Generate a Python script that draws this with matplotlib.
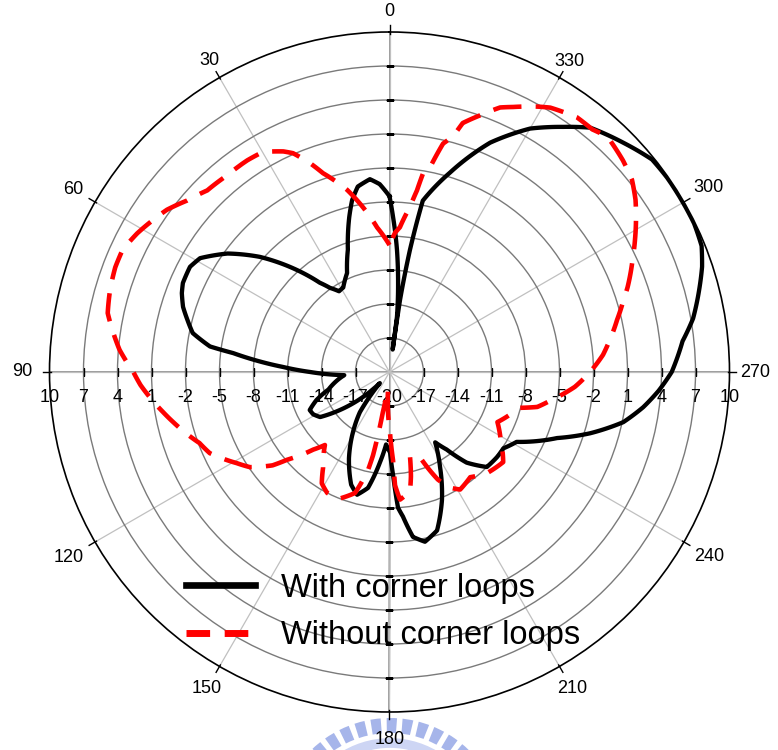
import numpy as np
import matplotlib
matplotlib.use("Agg")
import matplotlib.pyplot as plt
from matplotlib.lines import Line2D
from matplotlib.patches import Arc

plt.rcParams["font.family"] = ["Liberation Sans", "DejaVu Sans"]

# radial scale (dB) and angular ticks (deg)
R_MIN, R_MAX = -20, 10
RINGS = [-17, -14, -11, -8, -5, -2, 1, 4, 7]
RING_LABELS = [-20, -17, -14, -11, -8, -5, -2, 1, 4, 7, 10]
ANGLES = [0, 30, 60, 90, 120, 150, 180, 210, 240, 270, 300, 330]
# distance of each angle label centre outside the rim, in pixels
LABEL_OFFSET_PX = [21, 19.5, 25.5, 27.5, 30.5, 26, 27, 26, 29.5, 25.5, 28.5, 19]

# radiation pattern, with corner loops
theta_with = [0, 0.8, 3, 5.8, 9.7, 12.3, 14.6, 18.8, 23.2, 28.7, 32, 35.3, 38,
              43.5, 48.4, 53.8, 59, 62.2, 66.7, 69.2, 72.5, 75.6, 78.8, 81.9,
              83.1, 87.3, 90, 94,
              100, 106, 111, 115.5, 119, 123, 127.5, 133.3, 136.5, 139, 143.6,
              148.7, 154.8, 161.2, 165.2, 169.5, 174, 177.3, 180.4, 182, 183.6,
              185.3, 188.1, 191.8, 196.7, 202.3, 208, 213, 216.4, 220.4, 225.7,
              231.7, 236.2, 241.2, 248.5, 253, 257.9, 262.1, 266, 270, 276, 280,
              285, 288.6, 292, 296, 300, 305, 309, 314.4, 320.6, 324.7, 330,
              336.3, 343.1, 349, 350.5, 351.7, 352.0, 352.3, 354.5, 356.5,
              358.7, 360]
gain_with = [-4.5, -4.2, -3.4, -2.9, -3.4, -4.5, -5.9, -8.6, -10.5, -11.5,
             -11.6, -10.9, -10.0, -7.2, -4.7, -2.3, -0.5, -0.1, -0.15, -0.4,
             -0.9, -1.6, -2.3, -4.0, -6.1, -10.6, -13.0, -16.0, -15.2, -14.4,
             -13.1, -12.2, -12.3,
             -12.7, -14.5, -16.8, -18.0, -18.7, -15.6, -13.8, -11.6, -9.5, -8.8,
             -9.6, -12.0, -13.6, -12.9, -10.9, -8.0, -7.2, -5.3, -4.7, -5.4,
             -7.8, -10.5, -12.6, -11.5, -9.5, -8.0, -7.9, -7.9, -7.2, -4.1,
             -1.5, 1.1, 2.6, 3.8, 4.9, 6.0, 7.2, 8.3, 9.1, 9.7, 9.9, 9.9, 9.9,
             9.8, 8.9, 7.9, 6.5, 4.8, 2.1, -1.6, -4.6, -9.1, -13.6, -18.0,
             -15.1, -12.1, -9.2, -6.3, -4.5]

# radiation pattern, without corner loops
theta_without = [0, 4.9, 9.1, 13.1, 18.5, 20.8, 23.8, 25.7, 29.9, 33.9, 39.5,
                 45.1, 49.7, 53.9, 57.9, 61.2, 65.4, 69.1, 73.6, 78.2, 82, 85.3,
                 90, 93, 100, 103, 110.5, 114.3, 120.8, 124.3, 128.6, 130.6,
                 135.5, 138.5, 145.3, 148.7, 152.7, 157.9, 164.1, 167.6, 168.8,
                 169.7, 170.6, 172.5, 175, 177.7, 180.5, 182.3, 182.8, 184.7,
                 189.7, 191.6, 193.6, 196.5, 199.7, 204.2, 207.5, 211, 217.5,
                 224, 231.6, 239.2, 245.1, 252.1, 254.6, 256.7, 260.2, 265.4,
                 270, 274.6, 276.6, 282.9, 287.1, 289.6, 294.7, 298.3, 305,
                 308.4, 312.2, 317.2, 320.1, 323.7, 328.7, 330.9, 335, 337.3,
                 340.6, 343.6, 344.9, 346.8, 348.8, 350.4, 351.4, 352.9, 355.9,
                 357.7, 360]
gain_without = [-8.8, -7.2, -5.3, -3.5, -1.5, -0.3, 1.1, 1.6, 2.4, 2.5, 2.5,
                2.7, 3.4, 4.3, 4.9, 5.4, 5.9, 5.9, 5.7, 5.4, 4.6, 3.9, 2.6, 2.0,
                0.3, -0.4, -2.1, -2.6, -4.3, -5.1, -6.8, -8.1, -10.4, -11.4,
                -9.7, -8.5, -8.0, -7.9, -8.9, -11.1, -12.5, -14.4, -16.4, -18.0,
                -18.5, -16.6, -14.6, -12.2, -10.0, -8.7, -9.3, -10.6, -12.3,
                -12.3, -12.0, -9.6, -8.5, -7.9, -8.3, -7.6, -7.2, -8.6, -9.5,
                -8.5, -8.1, -6.6, -5.5, -3.6, -2.3, -1.1, -0.7, 0.6, 1.6, 2.3,
                3.6, 4.6, 6.5, 7.3, 7.8, 8.3, 7.9, 7.9, 7.3, 6.8, 5.8, 5.3, 4.0,
                2.9, 1.5, 0.7, -1.6, -2.2, -3.8, -5.3, -7.2, -7.7, -8.8]

W, H = 778, 750
RIM_PX = 340  # radius of the outer circle in pixels
fig = plt.figure(figsize=(W / 100, H / 100), dpi=100)

# faint logo stamp at the bottom edge
wm = fig.add_axes([0, 0, 1, 1], zorder=0)
wm.set_xlim(0, W)
wm.set_ylim(0, H)
wm.axis("off")
wm.add_patch(Arc((390, -81), 211, 211, theta1=20, theta2=160,
                 color="#a6b5ea", lw=10.8, ls=(0, (0.65, 0.37))))
wm.add_patch(Arc((390, -81), 176, 176, theta1=20, theta2=160,
                 color="#cdd5f4", lw=7))

ax = fig.add_axes([49.5 / W, 38 / H, 2 * RIM_PX / W, 2 * RIM_PX / H],
                  projection="polar", zorder=1)
ax.set_theta_zero_location("N")
ax.set_theta_direction(1)
ax.set_ylim(R_MIN, R_MAX)

ax.set_yticks(RINGS)
ax.set_yticklabels([])
ax.set_xticks(np.deg2rad(ANGLES))
ax.set_xticklabels([])
ax.tick_params(axis="both", length=0)
ax.yaxis.grid(True, color="#7a7a7a", lw=1.0)
ax.xaxis.grid(True, color="#c0c0c0", lw=0.9)
ax.spines["polar"].set_color("black")
ax.spines["polar"].set_linewidth(1.2)

# main axes through the centre
for a in (0, 90, 180, 270):
    ax.plot(np.deg2rad([a, a]), [R_MIN, R_MAX], color="#9a9a9a", lw=1.4, zorder=1.5)

# small ticks where rings cross the main axes
for a, m in ((90, "|"), (270, "|"), (0, "_"), (180, "_")):
    ax.plot(np.full(len(RINGS), np.deg2rad(a)), RINGS, ls="none", marker=m,
            ms=6, mew=1.0, color="black", zorder=2)

# outer ticks and angle labels
span = R_MAX - R_MIN
for a, off in zip(ANGLES, LABEL_OFFSET_PX):
    t = np.deg2rad(a)
    ax.plot([t, t], [R_MAX - 0.15, R_MAX + 0.6], color="black", lw=1.0, clip_on=False)
    ax.text(t, R_MAX + off * span / RIM_PX, str(a), ha="center", va="center",
            fontsize=13, clip_on=False)

# radial labels under the horizontal axis, both sides
for v in RING_LABELS:
    frac = 0.5 * (v - R_MIN) / span
    ax.text(0.5 + frac, 0.5 - 26 / (2 * RIM_PX), str(v), transform=ax.transAxes,
            ha="center", va="center", fontsize=13)
    if v != R_MIN:
        ax.text(0.5 - frac, 0.5 - 26 / (2 * RIM_PX), str(v), transform=ax.transAxes,
                ha="center", va="center", fontsize=13)

line_with, = ax.plot(np.deg2rad(theta_with), gain_with, color="black", lw=3.1,
                     solid_joinstyle="round", zorder=3)
line_without, = ax.plot(np.deg2rad(theta_without), gain_without, color="#ff0000",
                        lw=3.3, ls=(0, (6.2, 3.1)), dash_capstyle="butt", zorder=4)
# draw each segment along the polar grid (linear in angle and radius)
for ln in (line_with, line_without):
    ln.get_path()._interpolation_steps = 12

handles = [Line2D([], [], color="black", lw=4.8),
           Line2D([], [], color="#ff0000", lw=5.0, ls=(0, (3.4, 2.1)))]
fig.legend(handles, ["With corner loops", "Without corner loops"],
           loc="center left", bbox_to_anchor=(186 / W, 1 - 612 / H),
           frameon=False, fontsize=23.5, handlelength=2.1, handletextpad=0.8,
           labelspacing=0.5, borderpad=0, borderaxespad=0)

fig.savefig("out.png", dpi=100, facecolor="white")
